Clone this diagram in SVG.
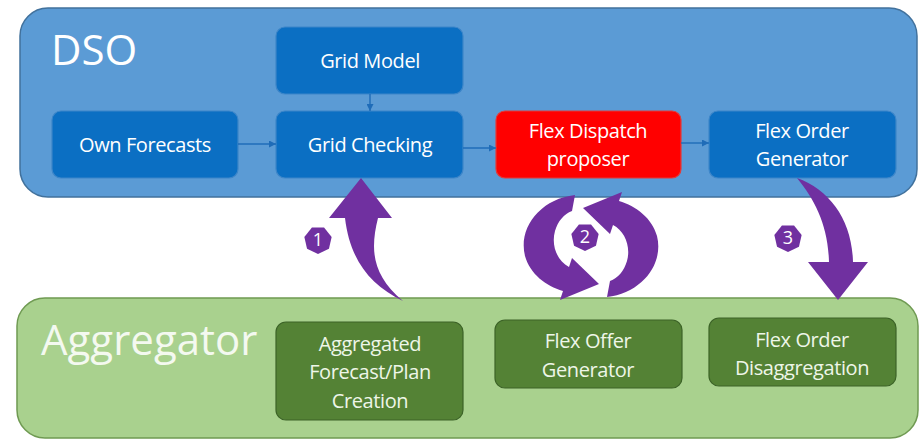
<svg xmlns="http://www.w3.org/2000/svg" width="924" height="441" viewBox="0 0 924 441">
<defs>
<style>
.lbl{font-family:"Open Sans","Noto Sans","DejaVu Sans",sans-serif;font-size:20px;letter-spacing:-0.4px;fill:#ffffff;text-anchor:middle}
.big{font-family:"Open Sans","Noto Sans","DejaVu Sans",sans-serif;font-size:42px;fill:#ffffff}
.bnode{fill:#0b6fc3;stroke:#3d86c9;stroke-width:1.2}
.gnode{fill:#548235;stroke:#3c6327;stroke-width:1.2}
.conn{stroke:#1f6cb8;stroke-width:1.4;fill:none;marker-end:url(#ah)}
.purple{fill:#7030a0}
.num{font-family:"Open Sans","Noto Sans","DejaVu Sans",sans-serif;font-size:18px;fill:#ffffff;text-anchor:middle}
</style>
<marker id="ah" viewBox="0 0 10 10" refX="10" refY="5" markerWidth="7" markerHeight="7" markerUnits="userSpaceOnUse" orient="auto">
<path d="M0,0 L10,5 L0,10 Z" fill="#1f6cb8"/>
</marker>
<polygon id="hept" points="0,14 -10.95,8.73 -13.65,-3.12 -6.07,-12.61 6.07,-12.61 13.65,-3.12 10.95,8.73" class="purple"/>
</defs>
<rect width="924" height="441" fill="#ffffff"/>

<g id="dso">
<rect x="20" y="8" width="897" height="189" rx="28" fill="#5b9bd5" stroke="#41719c" stroke-width="1.5"/>
<text class="big" x="51" y="65">DSO</text>
</g>
<g id="aggregator">
<rect x="17" y="298" width="901" height="140" rx="28" fill="#a9d18e" stroke="#6f9a52" stroke-width="1.5"/>
<text class="big" x="41" y="355" style="fill:#f4f9f0">Aggregator</text>
</g>

<g id="own-forecasts">
<rect class="bnode" x="52" y="111" width="186" height="67" rx="9"/>
<text class="lbl" x="145" y="152">Own Forecasts</text>
</g>
<g id="grid-model">
<rect class="bnode" x="276" y="27" width="187" height="67" rx="9"/>
<text class="lbl" x="370" y="68">Grid Model</text>
</g>
<g id="grid-checking">
<rect class="bnode" x="276" y="111" width="187" height="67" rx="9"/>
<text class="lbl" x="370" y="152">Grid Checking</text>
</g>
<g id="flex-dispatch">
<rect x="496" y="111" width="185" height="67" rx="9" fill="#ff0000" stroke="#e23a3a" stroke-width="1.2"/>
<text class="lbl" x="588" y="138">Flex Dispatch</text>
<text class="lbl" x="588" y="166">proposer</text>
</g>
<g id="flex-order-generator">
<rect class="bnode" x="709" y="111" width="187" height="67" rx="9"/>
<text class="lbl" x="802" y="138">Flex Order</text>
<text class="lbl" x="802" y="166">Generator</text>
</g>

<g id="aggregated-forecast">
<rect class="gnode" x="276" y="322" width="187" height="98" rx="10"/>
<text class="lbl" x="370" y="351" style="fill:#eef6e8">Aggregated</text>
<text class="lbl" x="370" y="379" style="fill:#eef6e8">Forecast/Plan</text>
<text class="lbl" x="370" y="408" style="fill:#eef6e8">Creation</text>
</g>
<g id="flex-offer-generator">
<rect class="gnode" x="495" y="320" width="187" height="68" rx="10"/>
<text class="lbl" x="588" y="348" style="fill:#eef6e8">Flex Offer</text>
<text class="lbl" x="588" y="377" style="fill:#eef6e8">Generator</text>
</g>
<g id="flex-order-disaggregation">
<rect class="gnode" x="709" y="318" width="187" height="68" rx="10"/>
<text class="lbl" x="802" y="347" style="fill:#eef6e8">Flex Order</text>
<text class="lbl" x="802" y="375" style="fill:#eef6e8">Disaggregation</text>
</g>

<g id="connectors">
<line class="conn" x1="238" y1="144" x2="276" y2="144"/>
<line class="conn" x1="370" y1="94" x2="370" y2="111"/>
<line class="conn" x1="463" y1="148" x2="496" y2="148"/>
<line class="conn" x1="681" y1="143" x2="709" y2="143"/>
<path class="purple" d="M361,178 L392,218 L378,218 C370,250 372,275 403,301 C370,285 350,260 345,218 L329,218 Z"/>
<g id="cycle">
<path class="purple" d="M575,195 C540,199 518,228 525,256 C530,274 546,286 563,291 L560,300 L599,284 L572,258 L569,267 C557,261 551,245 555,231 C558,221 564,214 572,211 Z"/>
<path class="purple" transform="rotate(180 591 246)" d="M575,195 C540,199 518,228 525,256 C530,274 546,286 563,291 L560,300 L599,284 L572,258 L569,267 C557,261 551,245 555,231 C558,221 564,214 572,211 Z"/>
</g>
<path class="purple" d="M797,178 C830,190 852,220 853,262 L868,262 L838,300 L808,262 L829,262 C828,225 815,200 797,178 Z"/>
</g>

<g id="badge-1">
<use href="#hept" x="318" y="240"/>
<text class="num" x="318" y="246">1</text>
</g>
<g id="badge-2">
<use href="#hept" x="585" y="237"/>
<text class="num" x="585" y="243">2</text>
</g>
<g id="badge-3">
<use href="#hept" x="788" y="238"/>
<text class="num" x="788" y="244">3</text>
</g>
</svg>
